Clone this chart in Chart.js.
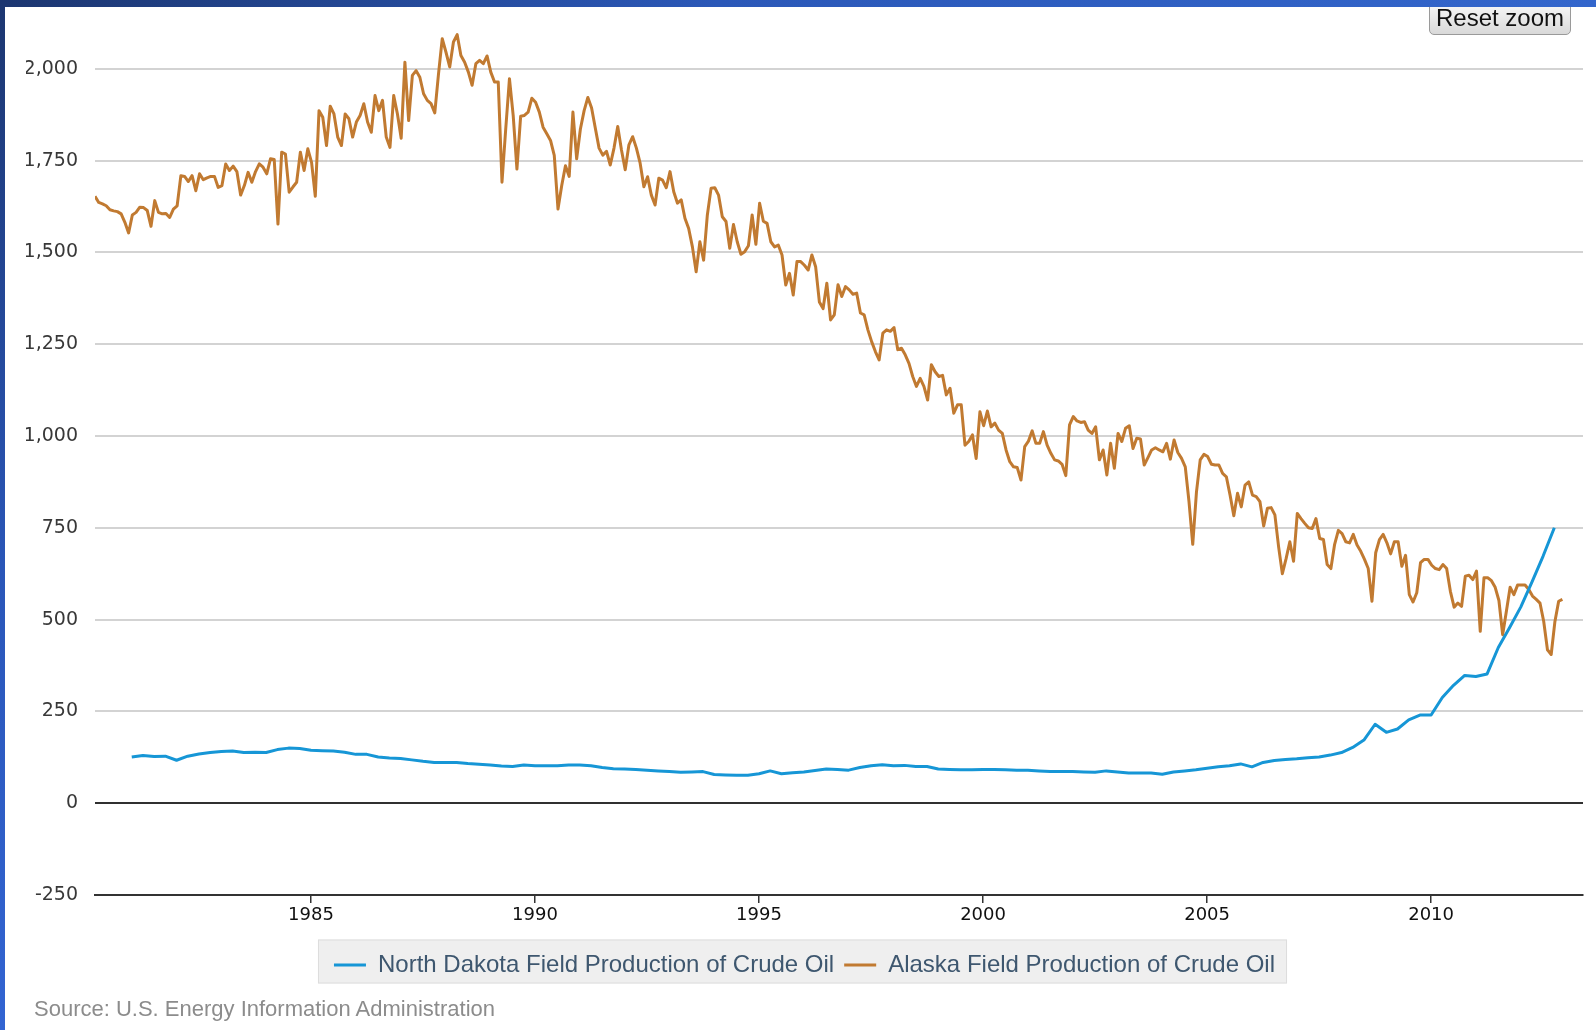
<!DOCTYPE html>
<html>
<head>
<meta charset="utf-8">
<script src="https://cdn.jsdelivr.net/npm/chart.js@4.4.1/dist/chart.umd.min.js"></script>
<style>
  html, body { margin: 0; padding: 0; background: #fff; width: 1596px; height: 1030px; overflow: hidden; }
  #wrap { position: relative; width: 1596px; height: 1030px; }
  #chart { position: absolute; left: 0; top: 0; z-index: 1; }
  .frame-top { position: absolute; left: 0; top: 0; width: 1596px; height: 7px; z-index: 4;
    background: linear-gradient(to right, #1c3670, #2b58b8 45%, #3366cc); }
  .frame-left { position: absolute; left: 0; top: 0; width: 5px; height: 1030px; z-index: 4;
    background: linear-gradient(to bottom, #1c3670, #2a56b8 55%, #3264d2); }
  #reset { position: absolute; left: 1429px; top: 0; width: 142px; height: 35px; box-sizing: border-box;
    border: 1px solid #9a9a9a; border-radius: 5px; background: linear-gradient(#fafafa, #d9d9d9);
    font: 24px 'Liberation Sans', Arial, sans-serif; color: #111; text-align: center; line-height: 34px; z-index: 3; }
  #source { position: absolute; left: 34px; top: 996px; font: 22px 'Liberation Sans', Arial, sans-serif;
    color: #8c8c8c; z-index: 3; white-space: nowrap; }
</style>
</head>
<body>
<div id="wrap">
  <canvas id="chart" width="1596" height="1030"></canvas>
  <div class="frame-top"></div>
  <div class="frame-left"></div>
  <div id="reset">Reset zoom</div>
  <div id="source">Source: U.S. Energy Information Administration</div>
</div>
<script>
// axes
const yearTicks = [1985, 1990, 1995, 2000, 2005, 2010];
const valueTicks = [-250, 0, 250, 500, 750, 1000, 1250, 1500, 1750, 2000];
const seriesNames = ['North Dakota Field Production of Crude Oil', 'Alaska Field Production of Crude Oil'];

// Alaska: monthly, first month at 1980.18
const alaskaStart = 1980.18;
const alaska = [
  1653, 1636, 1632, 1627, 1616, 1613, 1611, 1605, 1582, 1553,
  1602, 1609, 1623, 1622, 1614, 1571, 1641, 1609, 1605, 1606,
  1595, 1618, 1627, 1709, 1707, 1693, 1709, 1668, 1714, 1698,
  1703, 1707, 1707, 1677, 1682, 1741, 1723, 1735, 1720, 1656,
  1682, 1718, 1691, 1720, 1741, 1732, 1714, 1755, 1753, 1577,
  1773, 1768, 1664, 1678, 1691, 1773, 1723, 1782, 1745, 1653,
  1886, 1868, 1791, 1898, 1877, 1814, 1791,
  1877, 1864, 1814, 1855, 1873, 1905, 1855, 1827, 1927, 1886,
  1914, 1814, 1786, 1927, 1877, 1811, 2018, 1859, 1982, 1995,
  1977, 1932, 1914, 1905, 1880, 1986, 2082, 2045, 2005, 2073,
  2093, 2036, 2018, 1991, 1955, 2014, 2023, 2014, 2035, 1991,
  1964, 1964, 1691, 1836, 1973, 1873, 1727, 1871, 1873, 1882,
  1920, 1909, 1882, 1841, 1823, 1805, 1764, 1618, 1682, 1736,
  1707, 1882, 1755, 1836, 1886,
  1922, 1893, 1838, 1784, 1765, 1775, 1738, 1784, 1843, 1779,
  1725, 1793, 1815, 1784, 1743, 1679, 1706, 1656, 1629, 1702,
  1697, 1676, 1720, 1665, 1634, 1643, 1593, 1565, 1515, 1447,
  1529, 1479, 1602, 1675, 1676, 1656, 1597, 1584, 1511, 1576,
  1529, 1495, 1502, 1518, 1602, 1522, 1634, 1585, 1579, 1529,
  1515, 1520, 1493, 1411, 1443, 1384, 1475, 1475, 1465, 1452,
  1493, 1461, 1365, 1347,
  1416, 1316, 1330, 1412, 1380, 1407, 1398, 1386, 1389, 1335,
  1330, 1289, 1257, 1230, 1207, 1280, 1289, 1285, 1295, 1235,
  1239, 1221, 1198, 1162, 1135, 1157, 1135, 1098, 1194, 1175,
  1162, 1165, 1112, 1130, 1062, 1085, 1085, 975, 985, 1003,
  939, 1066, 1028, 1068, 1025, 1035, 1016, 1007, 962, 930,
  916, 914, 880, 971, 986, 1014, 980, 980, 1012, 975,
  953, 935, 932, 923, 892,
  1030, 1053, 1041, 1037, 1039, 1016, 1007, 1025, 935, 962,
  894, 980, 912, 1007, 985, 1021, 1028, 966, 994, 992,
  921, 941, 962, 968, 962, 957, 980, 937, 989, 955,
  939, 916, 821, 705, 848, 935, 950, 944, 923, 921,
  921, 898, 889, 839, 783, 844, 807, 866, 875, 839,
  835, 821, 755, 803, 805, 785, 698, 625, 666, 712,
  659, 789, 775, 762,
  750, 748, 775, 721, 718, 650, 639, 705, 743, 734,
  712, 709, 732, 703, 686, 664, 639, 550, 682, 718,
  732, 709, 679, 712, 712, 645, 675, 568, 548, 573,
  655, 664, 664, 648, 639, 636, 650, 639, 577, 534,
  545, 536, 618, 621, 609, 632, 468, 614, 614, 606,
  588, 552, 459, 523, 588, 568, 594, 594, 594, 582,
  564, 555, 545, 495, 418, 405, 495, 550, 555
];

// North Dakota: quarterly, from 1981
const ndStart = 1981.0;
const northDakota = [
  126, 130, 127, 128, 117, 128, 134, 138, 141, 142,
  138, 139, 138, 146, 150, 149, 144, 143, 142, 139,
  133, 133, 126, 123, 122, 118, 114, 111, 111, 111,
  108, 106, 104, 101, 100, 104, 102, 102, 102, 104,
  104, 102, 97, 94, 93, 92, 90, 88, 86, 84,
  85, 86, 78, 77, 76, 76, 80, 88, 80, 83,
  85, 89, 93, 92, 90, 97, 102, 105, 102, 103,
  100, 100, 93, 92, 91, 91, 92, 92, 91, 90,
  90, 88, 86, 86, 86, 85, 84, 88, 85, 82,
  82, 82, 79, 85, 88, 91, 95, 99, 102, 107,
  99, 111, 116, 119, 121, 124, 126, 131, 138, 152,
  172, 215, 193, 202, 227, 240, 240, 288, 321, 348,
  345, 352, 424, 478, 534, 602, 673, 750
];

const toPoints = (vals, start, step) => vals.map((v, i) => ({ x: start + i * step, y: v }));

// grey box behind the legend items
const legendBox = {
  id: 'legendBox',
  beforeDraw(chart) {
    const lg = chart.legend;
    if (!lg || !lg.legendHitBoxes || !lg.legendHitBoxes.length) return;
    const boxes = lg.legendHitBoxes;
    const first = boxes[0], last = boxes[boxes.length - 1];
    const x0 = first.left - 16, x1 = last.left + last.width + 12;
    const y0 = lg.top - 3.5;
    const c = chart.ctx;
    c.save();
    c.fillStyle = '#efefef';
    c.fillRect(x0, y0, x1 - x0, lg.height);
    c.strokeStyle = '#dddddd';
    c.lineWidth = 1;
    c.strokeRect(x0 + 0.5, y0 + 0.5, x1 - x0 - 1, lg.height - 1);
    c.restore();
  }
};

const ctx = document.getElementById('chart');

new Chart(ctx, {
  type: 'line',
  data: {
    datasets: [{
      label: seriesNames[0],
      data: toPoints(northDakota, ndStart, 0.25),
      borderColor: '#1696d6',
      backgroundColor: '#1696d6',
      borderWidth: 3,
    }, {
      label: seriesNames[1],
      data: toPoints(alaska, alaskaStart, 1 / 12),
      borderColor: '#c17a31',
      backgroundColor: '#c17a31',
      borderWidth: 3,
    }]
  },
  options: {
    responsive: false,
    animation: false,
    devicePixelRatio: 1,
    layout: { padding: { left: 26, right: 13, top: 26, bottom: 43 } },
    elements: {
      point: { radius: 0 },
      line: { tension: 0, borderJoinStyle: 'round' }
    },
    plugins: {
      tooltip: { enabled: false },
      legend: {
        position: 'bottom',
        labels: {
          boxWidth: 32,
          boxHeight: 3,
          padding: 10,
          color: '#3e576f',
          font: { family: "'Liberation Sans', Arial, sans-serif", size: 24 },
          generateLabels: chart => chart.data.datasets.map((ds, i) => ({
            text: ds.label,
            fillStyle: ds.borderColor,
            strokeStyle: ds.borderColor,
            fontColor: '#3e576f',
            lineWidth: 0,
            hidden: false,
            datasetIndex: i
          }))
        }
      }
    },
    scales: {
      x: {
        type: 'linear',
        min: alaskaStart,
        max: 2013.39,
        afterBuildTicks: s => { s.ticks = yearTicks.map(v => ({ value: v })); },
        afterFit: s => { s.height = 48; },
        border: { display: true, color: '#333', width: 2 },
        grid: { drawOnChartArea: false, drawTicks: true, tickLength: 8, color: '#333', lineWidth: 1.5 },
        ticks: {
          autoSkip: false,
          maxRotation: 0,
          padding: 2,
          color: '#111',
          font: { family: "'DejaVu Sans', Verdana, sans-serif", size: 18 },
          callback: v => String(v)
        }
      },
      y: {
        min: -250,
        max: 2110,
        afterBuildTicks: s => { s.ticks = valueTicks.map(v => ({ value: v })); },
        afterFit: s => { s.width = 69; },
        border: { display: false },
        grid: {
          drawTicks: false,
          color: c => (c.tick && c.tick.value === 0) ? '#303030' : '#d3d3d3',
          lineWidth: 2
        },
        ticks: {
          padding: 17,
          color: '#383838',
          font: { family: "'DejaVu Sans', Verdana, sans-serif", size: 19 }
        }
      }
    }
  },
  plugins: [legendBox]
});
</script>
</body>
</html>
